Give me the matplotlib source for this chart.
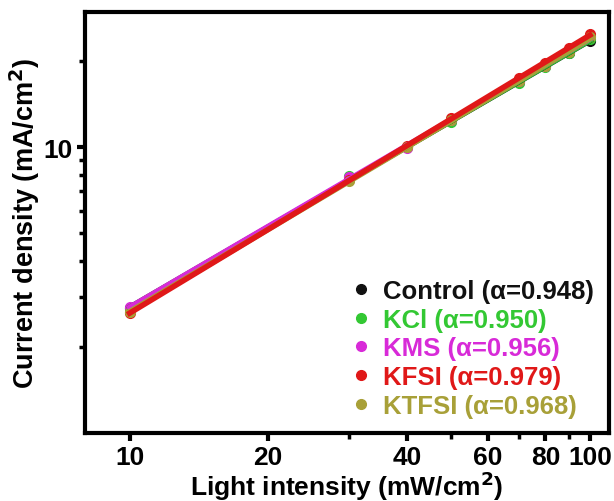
import numpy as np
import matplotlib
matplotlib.use('Agg')
import matplotlib.pyplot as plt
from matplotlib.ticker import FixedLocator, NullFormatter

plt.rcParams['font.family'] = ['Liberation Sans', 'DejaVu Sans']
plt.rcParams['font.weight'] = 'bold'

# light intensity (mW/cm2) and current density (mA/cm2) for each device
intensity = [10, 30, 40, 50, 70, 80, 90, 100]
control = [2.74, 7.75, 10.0, 12.3, 16.9, 19.2, 21.4, 23.6]
kcl = [2.72, 7.95, 10.0, 12.2, 16.8, 19.1, 21.4, 23.9]
kms = [2.76, 7.85, 9.95, 12.4, 17.0, 19.3, 21.7, 24.5]
kfsi = [2.62, 7.70, 10.1, 12.6, 17.4, 19.7, 22.2, 24.9]
ktfsi = [2.66, 7.60, 10.0, 12.4, 17.0, 19.3, 21.6, 24.3]

labels = ['Control (α=0.948)', 'KCl (α=0.950)', 'KMS (α=0.956)',
          'KFSI (α=0.979)', 'KTFSI (α=0.968)']
colors = ['#111111', '#33c833', '#d82ad8', '#e01818', '#a8a038']
series = [control, kcl, kms, kfsi, ktfsi]
line_z = [2, 2.1, 2.2, 2.4, 2.3]   # red fit line ends up on top

fig = plt.figure(figsize=(6.14, 5.02), dpi=100)
ax = fig.add_axes([0.1384, 0.1355, 0.8535, 0.8385])

x = np.array(intensity, dtype=float)
for y, c, lab, z in zip(series, colors, labels, line_z):
    y = np.array(y)
    # linear fit in log-log space
    k, b = np.polyfit(np.log10(x), np.log10(y), 1)
    ax.plot(x, 10 ** (k * np.log10(x) + b), color=c, lw=4, zorder=z)
    ax.plot(x, y, 'o', color=c, ms=7, mec=c, zorder=1.5, label=lab)

ax.set_xscale('log')
ax.set_yscale('log')
ax.set_xlim(8, 110)
ax.set_ylim(1, 29.7)

ax.xaxis.set_major_locator(FixedLocator([10, 20, 40, 60, 80, 100]))
ax.xaxis.set_minor_locator(FixedLocator([30, 50, 70, 90]))
ax.set_xticklabels(['10', '20', '40', '60', '80', '100'])
ax.xaxis.set_minor_formatter(NullFormatter())
ax.yaxis.set_major_locator(FixedLocator([10]))
ax.yaxis.set_minor_locator(FixedLocator([2, 3, 4, 5, 6, 7, 8, 9, 20]))
ax.set_yticklabels(['10'])
ax.yaxis.set_minor_formatter(NullFormatter())

ax.tick_params(which='major', direction='out', length=6, width=3, labelsize=19, pad=3)
ax.tick_params(which='minor', direction='out', length=4, width=2.5)
for s in ax.spines.values():
    s.set_linewidth(3)

ax.set_xlabel('Light intensity (mW/cm$^2$)', fontsize=19, fontweight='bold', labelpad=-1)
ax.set_ylabel('Current density (mA/cm$^2$)', fontsize=19.5, fontweight='bold', labelpad=1)

leg = ax.legend(loc='lower right', frameon=False, fontsize=18.5, handletextpad=0.2,
                handlelength=1.3, labelspacing=0.18, borderaxespad=0.2,
                bbox_to_anchor=(1.0, 0.0))
for t, c in zip(leg.get_texts(), colors):
    t.set_color(c)
    t.set_fontweight('bold')

fig.savefig('out.png', dpi=100)
